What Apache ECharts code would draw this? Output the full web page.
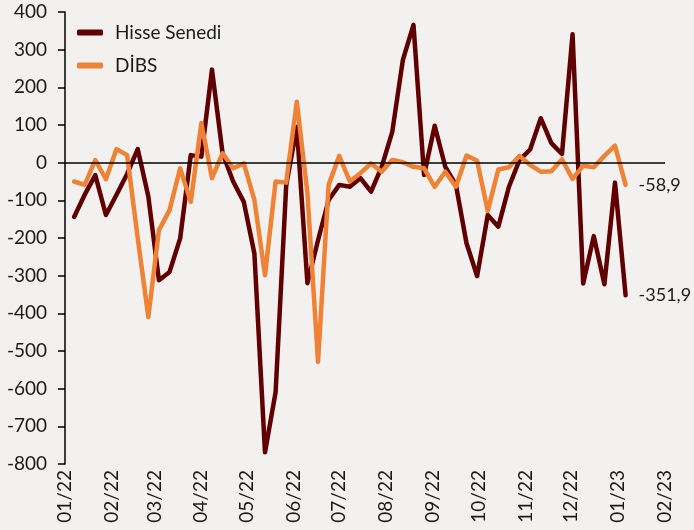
<!DOCTYPE html>
<html>
<head>
<meta charset="utf-8">
<script src="https://cdn.jsdelivr.net/npm/echarts@6/dist/echarts.min.js"></script>
<style>
  html, body { margin: 0; padding: 0; background: #f2f1ef; }
  #chart { width: 694px; height: 530px; }
</style>
</head>
<body>
<div id="chart"></div>
<script>
// haftalik veriler, 7 Ocak 2022'den 6 Ocak 2023'e
const FIRST_WEEK = [2022, 0, 7]
const hisseSenedi = [
  -144, -85, -33, -139, -85, -30, 36, -90, -312, -290,
  -201, 20, 16, 247, 25, -50, -104, -241, -769, -609,
  -60, 95, -320, -206, -99, -59, -64, -41, -77, -11,
  82, 273, 366, -33, 98, -11, -59, -214, -301, -139,
  -170, -64, 7, 35, 118, 52, 23, 341, -321, -195,
  -323, -53, -351.9,
]
const dibs = [
  -50, -59, 7, -44, 36, 20, -200, -410, -179, -126,
  -15, -104, 105, -41, 25, -15, -2, -99, -299, -50,
  -53, 162, -81, -529, -59, 18, -50, -28, -2, -24,
  7, 1, -11, -15, -64, -24, -64, 19, 5, -128,
  -18, -12, 18, -6, -24, -23, 9, -43, -8, -12,
  18, 45, -58.9,
]
// ay basi etiketleri: 01/22 ... 02/23
const monthTicks = []
for (let m = 0; m <= 13; m++) monthTicks.push(new Date(2022, m, 1).getTime())

const weekDate = i => new Date(FIRST_WEEK[0], FIRST_WEEK[1], FIRST_WEEK[2] + 7 * i).getTime()
const toPairs = arr => arr.map((v, i) => [weekDate(i), v])

const pad = n => (n < 10 ? '0' + n : '' + n)
const fmtMonth = v => {
  const d = new Date(v)
  return pad(d.getMonth() + 1) + '/' + pad(d.getFullYear() % 100)
}
const fmtEnd = p => String(p.value[1]).replace('.', ',')

const FONT = 'Lato, "Open Sans", sans-serif'

const chart = echarts.init(document.getElementById('chart'))
chart.setOption({
  backgroundColor: '#f2f1ef',
  animation: false,
  textStyle: { fontFamily: FONT },
  grid: { left: 65, right: 29, top: 12, bottom: 66, containLabel: false },
  legend: {
    orient: 'vertical',
    left: 72,
    top: 18,
    itemWidth: 26,
    itemHeight: 6,
    itemGap: 14,
    icon: 'roundRect',
    textStyle: { fontSize: 19, color: '#1a1a1a', fontFamily: FONT, padding: [0, 0, 0, 7] },
    data: ['Hisse Senedi', 'DİBS'],
  },
  xAxis: {
    type: 'value',
    min: monthTicks[0],
    max: monthTicks[monthTicks.length - 1],
    axisLine: { show: false },
    axisTick: { show: false },
    splitLine: { show: false },
    axisLabel: {
      customValues: monthTicks,
      formatter: fmtMonth,
      rotate: 90,
      margin: 6,
      fontSize: 19,
      color: '#1a1a1a',
      fontFamily: FONT,
      hideOverlap: false,
    },
  },
  yAxis: {
    type: 'value',
    min: -800,
    max: 400,
    interval: 100,
    axisLine: { show: true, lineStyle: { color: '#000', width: 1.5 } },
    axisTick: { show: true, length: 7, lineStyle: { color: '#000', width: 1.5 } },
    splitLine: { show: false },
    axisLabel: { fontSize: 19, color: '#1a1a1a', margin: 18, fontFamily: FONT },
  },
  series: [
    {
      name: 'Hisse Senedi',
      type: 'line',
      data: toPairs(hisseSenedi),
      symbol: 'none',
      color: '#600000',
      lineStyle: { width: 4.5, cap: 'round', join: 'round' },
      endLabel: { show: true, formatter: fmtEnd, fontSize: 18, color: '#1a1a1a', distance: 13 },
      markLine: {
        silent: true,
        symbol: 'none',
        label: { show: false },
        lineStyle: { color: '#000', width: 1.5, type: 'solid' },
        data: [{ yAxis: 0 }],
      },
      z: 2,
    },
    {
      name: 'DİBS',
      type: 'line',
      data: toPairs(dibs),
      symbol: 'none',
      color: '#ef8234',
      lineStyle: { width: 4.5, cap: 'round', join: 'round' },
      endLabel: { show: true, formatter: fmtEnd, fontSize: 18, color: '#1a1a1a', distance: 13 },
      z: 3,
    },
  ],
})
</script>
</body>
</html>
